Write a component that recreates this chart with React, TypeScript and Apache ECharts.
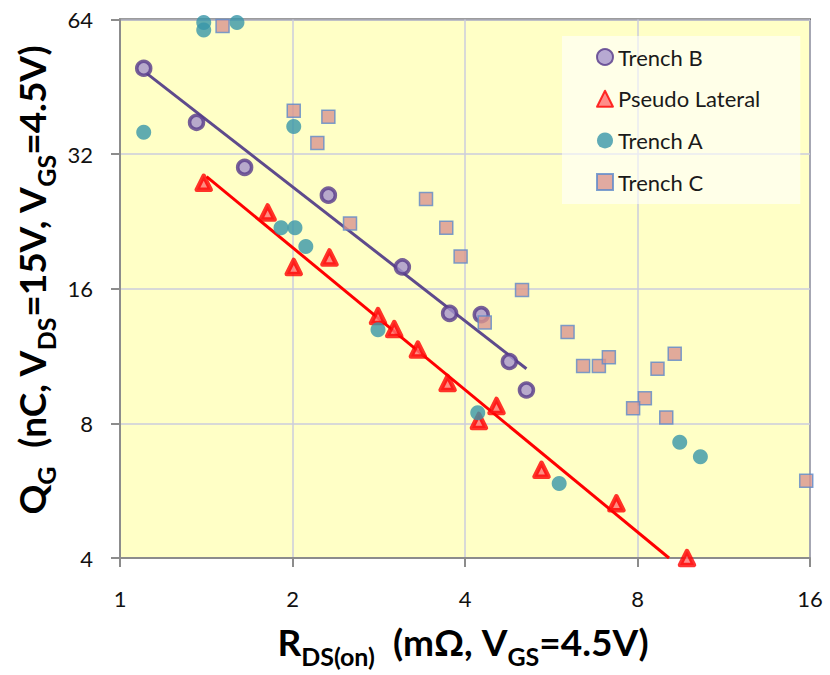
import React, { useEffect, useRef } from "react";
import * as echarts from "echarts";

const xTicks = [1, 2, 4, 8, 16];
const yTicks = [4, 8, 16, 32, 64];

const trenchBX = [1.10, 1.36, 1.65, 2.31, 3.11, 3.76, 4.27, 4.78, 5.12];
const trenchBY = [49.8, 37.7, 29.9, 25.9, 17.9, 14.1, 14.0, 11.0, 9.5];

const pseudoX = [1.40, 1.81, 2.01, 2.32, 2.82, 3.01, 3.31, 3.73, 4.23, 4.54, 5.44, 7.35, 9.76];
const pseudoY = [27.6, 23.7, 17.9, 18.8, 13.9, 13.0, 11.7, 9.85, 8.1, 8.75, 6.3, 5.3, 4.0];

const trenchAX = [1.40, 1.40, 1.60, 1.10, 2.01, 1.91, 2.02, 2.11, 2.82, 4.21, 5.84, 9.48, 10.3];
const trenchAY = [63.0, 60.6, 63.0, 35.8, 36.9, 21.9, 21.9, 19.9, 12.95, 8.45, 5.87, 7.26, 6.74];

const trenchCX = [1.51, 2.01, 2.31, 2.21, 3.42, 2.52, 3.71, 3.93, 5.03, 4.33, 6.04, 6.43, 6.85, 7.13, 8.67, 9.29, 8.24, 7.86, 8.98, 15.76];
const trenchCY = [61.9, 40.0, 38.8, 33.9, 25.4, 22.4, 21.9, 18.9, 15.9, 13.45, 12.8, 10.75, 10.75, 11.25, 10.6, 11.45, 9.1, 8.65, 8.25, 5.95];

const trenchBFitX = [1.113, 5.12];
const trenchBFitY = [48.5, 10.6];
const pseudoFitX = [1.416, 9.08];
const pseudoFitY = [28.5, 4.0];

const legendNames = ["Trench B", "Pseudo Lateral", "Trench A", "Trench C"];

const zip = (xs: number[], ys: number[]) => xs.map((x, i) => [x, ys[i]]);

const FONT = "Lato, 'Open Sans', sans-serif";

export default function App() {
  const ref = useRef<HTMLDivElement>(null);
  useEffect(() => {
    document.body.style.margin = "0";
    if (!ref.current) return;
    const chart = echarts.init(ref.current, undefined, { renderer: "svg" });
    const titleRich = {
      b: { fontSize: 37, fontWeight: "bold", fontFamily: FONT, color: "#1a1a1a", lineHeight: 54 },
      s: { fontSize: 25, fontWeight: "bold", fontFamily: FONT, color: "#1a1a1a", lineHeight: 25, verticalAlign: "bottom" },
    };
    const option: any = {
      animation: false,
      backgroundColor: "#ffffff",
      grid: {
        left: 120,
        right: 20,
        top: 19.5,
        bottom: 117,
        show: true,
        backgroundColor: "#FFFFC6",
        borderColor: "#3a3a3a",
        borderWidth: 2,
      },
      xAxis: {
        type: "log",
        logBase: 2,
        min: xTicks[0],
        max: xTicks[xTicks.length - 1],
        axisLine: { show: true, lineStyle: { color: "#8c8c8c", width: 2 } },
        axisTick: { show: true, length: 9, lineStyle: { color: "#8c8c8c", width: 2 } },
        splitLine: { show: true, lineStyle: { color: "#CBCCDD", width: 1.5 } },
        axisLabel: {
          margin: 29,
          fontSize: 22,
          fontFamily: FONT,
          color: "#111",
          formatter: (v: number) => String(Math.round(v)),
        },
      },
      yAxis: {
        type: "log",
        logBase: 2,
        min: yTicks[0],
        max: yTicks[yTicks.length - 1],
        axisLine: { show: true, lineStyle: { color: "#8c8c8c", width: 2 } },
        axisTick: { show: true, length: 9, lineStyle: { color: "#8c8c8c", width: 2 } },
        splitLine: { show: true, lineStyle: { color: "#CBCCDD", width: 1.5 } },
        axisLabel: {
          margin: 27,
          fontSize: 22,
          fontFamily: FONT,
          color: "#111",
          formatter: (v: number) => String(Math.round(v)),
        },
      },
      legend: {
        data: legendNames,
        orient: "vertical",
        left: 562,
        top: 36,
        padding: [10, 40, 11, 34],
        itemGap: 19.7,
        itemWidth: 16,
        itemHeight: 16,
        backgroundColor: "rgba(255,255,255,0.6)",
        textStyle: { fontSize: 22, fontFamily: FONT, color: "#1a1a1a", lineHeight: 22 },
      },
      graphic: [
        {
          type: "text",
          x: 463,
          y: 641,
          style: {
            text: "{b|R}{s|DS(on)}{b|  (mΩ, V}{s|GS}{b|=4.5V)}",
            rich: titleRich,
            align: "center",
            verticalAlign: "middle",
          },
        },
        {
          type: "text",
          x: 31,
          y: 280,
          rotation: Math.PI / 2,
          style: {
            text: "{b|Q}{s|G}{b|  (nC, V}{s|DS}{b|=15V, V}{s|GS}{b|=4.5V)}",
            rich: titleRich,
            align: "center",
            verticalAlign: "middle",
          },
        },
      ],
      series: [
        {
          name: "Trench B fit",
          type: "line",
          data: zip(trenchBFitX, trenchBFitY),
          symbol: "none",
          lineStyle: { color: "#5E4A8C", width: 3 },
          z: 1,
        },
        {
          name: "Pseudo Lateral fit",
          type: "line",
          data: zip(pseudoFitX, pseudoFitY),
          symbol: "none",
          lineStyle: { color: "#FF0000", width: 3 },
          z: 1,
        },
        {
          name: "Trench B",
          type: "scatter",
          data: zip(trenchBX, trenchBY),
          symbol: "circle",
          symbolSize: 14,
          clip: false,
          itemStyle: { color: "#A593CC", borderColor: "#56398A", borderWidth: 3.5 },
          z: 2,
        },
        {
          name: "Pseudo Lateral",
          type: "scatter",
          data: zip(pseudoX, pseudoY),
          symbol: "triangle",
          symbolSize: 14,
          clip: false,
          itemStyle: { color: "#FF7070", borderColor: "#FF0000", borderWidth: 4.5, borderJoin: "round" },
          z: 3,
        },
        {
          name: "Trench A",
          type: "scatter",
          data: zip(trenchAX, trenchAY),
          symbol: "circle",
          symbolSize: 15,
          clip: false,
          itemStyle: { color: "#3896A9" },
          z: 4,
        },
        {
          name: "Trench C",
          type: "scatter",
          data: zip(trenchCX, trenchCY),
          symbol: "rect",
          symbolSize: 13,
          clip: false,
          itemStyle: { color: "#D9958F", borderColor: "#5E8ACB", borderWidth: 1.5 },
          z: 5,
        },
      ],
    };
    chart.setOption(option);
    return () => chart.dispose();
  }, []);
  return <div ref={ref} style={{ width: 830, height: 675 }} />;
}
